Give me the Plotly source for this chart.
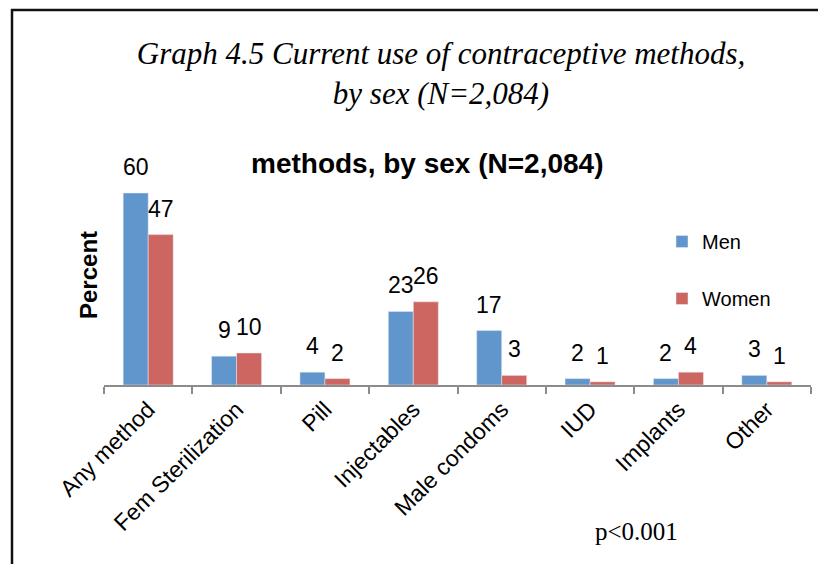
import plotly.graph_objects as go

categories = ["Any method", "Fem Sterilization", "Pill", "Injectables",
              "Male condoms", "IUD", "Implants", "Other"]
men = [60, 9, 4, 23, 17, 2, 2, 3]
women = [47, 10, 2, 26, 3, 1, 4, 1]

MEN_COLOR = "#6096CC"
WOMEN_COLOR = "#CD6660"
SANS = "Liberation Sans, Arial, sans-serif"
SERIF = "Liberation Serif, Times New Roman, serif"

# page has an 8px body margin; figure is sized to fit inside the window
OFF = 8
W, H = 826 - 2 * OFF, 572 - 2 * OFF
L = 104 - OFF
T = 161 - OFF
R = W - (811 - OFF)
B = H - (385 - OFF)
PW = W - L - R
PH = H - T - B


def px_x(px):
    """page pixel x -> paper"""
    return (px - OFF - L) / PW


def px_y(py):
    """page pixel y -> paper"""
    return (H - B - (py - OFF)) / PH


fig = go.Figure()
fig.add_trace(go.Bar(x=categories, y=men, name="Men", marker_color=MEN_COLOR,
                     legendgroup="men"))
fig.add_trace(go.Bar(x=categories, y=women, name="Women", marker_color=WOMEN_COLOR,
                     legendgroup="women"))

annotations = []
for c, v in zip(categories, men):
    annotations.append(dict(x=c, y=v, xref="x", yref="y", text=str(v), showarrow=False,
                            xshift=-12.5, yshift=26, yanchor="middle",
                            font=dict(family=SANS, size=23, color="black")))
for c, v in zip(categories, women):
    annotations.append(dict(x=c, y=v, xref="x", yref="y", text=str(v), showarrow=False,
                            xshift=12.5, yshift=26, yanchor="middle",
                            font=dict(family=SANS, size=23, color="black")))

annotations.append(dict(x=px_x(427), y=px_y(163), xref="paper", yref="paper",
                        text="<b>methods, by sex (N=2,084)</b>", showarrow=False,
                        xanchor="center", yanchor="middle",
                        font=dict(family=SANS, size=28, color="black")))
annotations.append(dict(x=px_x(636), y=px_y(531), xref="paper", yref="paper",
                        text="p<0.001", showarrow=False,
                        xanchor="center", yanchor="middle",
                        font=dict(family=SERIF, size=25, color="black")))
annotations.append(dict(x=px_x(88), y=px_y(275), xref="paper", yref="paper",
                        text="<b>Percent</b>", showarrow=False, textangle=-90,
                        xanchor="center", yanchor="middle",
                        font=dict(family=SANS, size=24, color="black")))

shapes = [
    dict(type="line", xref="paper", yref="paper",
         x0=px_x(12), x1=px_x(12), y0=px_y(9), y1=px_y(600),
         line=dict(color="#111111", width=2.5)),
    dict(type="line", xref="paper", yref="paper",
         x0=px_x(11), x1=px_x(840), y0=px_y(10), y1=px_y(10),
         line=dict(color="#111111", width=2.5)),
]

fig.update_layout(
    width=W, height=H,
    margin=dict(l=L, r=R, t=T, b=B, autoexpand=False),
    paper_bgcolor="white", plot_bgcolor="white",
    barmode="group", bargap=0.434, bargroupgap=0,
    showlegend=True,
    title=dict(text="<i>Graph 4.5 Current use of contraceptive methods,<br>by sex (N=2,084)</i>",
               x=(441 - OFF) / W, xanchor="center", y=1 - (64 - OFF) / H, yanchor="middle",
               font=dict(family=SERIF, size=31, color="black")),
    xaxis=dict(showline=True, linecolor="#8C8C8C", linewidth=2,
               ticks="outside", tickson="boundaries", ticklen=7,
               tickcolor="#8C8C8C", tickwidth=2, tickangle=-45,
               tickfont=dict(family=SANS, size=23, color="black"),
               showgrid=False, zeroline=False, automargin=False),
    yaxis=dict(range=[0, 70], showline=False, showticklabels=False, ticks="",
               showgrid=False, zeroline=False, automargin=False),
    legend=dict(x=px_x(662), y=px_y(222), xanchor="left", yanchor="top",
                tracegroupgap=28, bgcolor="rgba(0,0,0,0)",
                font=dict(family=SANS, size=20, color="black")),
    annotations=annotations,
    shapes=shapes,
)

fig.write_html("out.html")
